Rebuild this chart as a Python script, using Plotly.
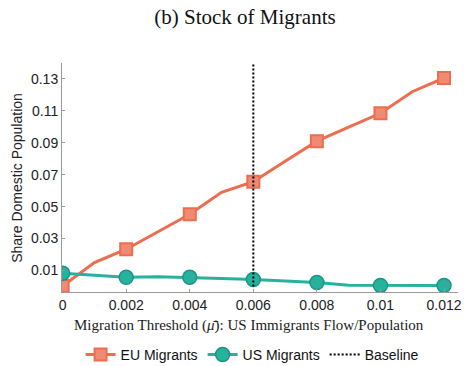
import plotly.graph_objects as go

# Migration threshold grid (US immigrant flow / population)
threshold = [0.000, 0.001, 0.002, 0.003, 0.004, 0.005, 0.006,
             0.007, 0.008, 0.009, 0.010, 0.011, 0.012]
eu_stock = [0.0003, 0.0149, 0.0233, 0.0343, 0.0452, 0.0590, 0.0656,
            0.0785, 0.0910, 0.0998, 0.1085, 0.1220, 0.1306]
us_stock = [0.0082, 0.0070, 0.0057, 0.0061, 0.0057, 0.0050, 0.0043,
            0.0035, 0.0024, 0.0008, 0.0006, 0.0006, 0.0006]
baseline_x = 0.006
baseline_span = [0.0, 0.14]

x_ticks = [0, 0.002, 0.004, 0.006, 0.008, 0.010, 0.012]
x_labels = ["0", "0.002", "0.004", "0.006", "0.008", "0.01", "0.012"]
y_ticks = [0.01, 0.03, 0.05, 0.07, 0.09, 0.11, 0.13]
y_labels = ["0.01", "0.03", "0.05", "0.07", "0.09", "0.11", "0.13"]

EU_LINE = "#EC6D4F"
EU_FILL = "#EF8A73"
US_LINE = "#27B29E"
US_EDGE = "#1E9584"

# markers sit on every second grid point
mk_x = threshold[::2]
eu_mk = eu_stock[::2]
us_mk = us_stock[::2]

eu_marker = dict(symbol="square", size=12, color=EU_FILL, line=dict(color=EU_LINE, width=2))
us_marker = dict(symbol="circle", size=14, color=US_LINE, line=dict(color=US_EDGE, width=1.5))

fig = go.Figure()

fig.add_trace(go.Scatter(x=threshold, y=eu_stock, mode="lines",
                         line=dict(color=EU_LINE, width=3), showlegend=False, hoverinfo="skip"))
fig.add_trace(go.Scatter(x=mk_x, y=eu_mk, mode="markers", marker=eu_marker, showlegend=False))
fig.add_trace(go.Scatter(x=threshold, y=us_stock, mode="lines",
                         line=dict(color=US_LINE, width=3), showlegend=False, hoverinfo="skip"))
fig.add_trace(go.Scatter(x=mk_x, y=us_mk, mode="markers", marker=us_marker, showlegend=False))
fig.add_trace(go.Scatter(x=[baseline_x, baseline_x], y=baseline_span, mode="lines",
                         line=dict(color="black", width=2, dash="2px,2px"), showlegend=False))

# legend entries
fig.add_trace(go.Scatter(x=[None], y=[None], mode="lines+markers", name="EU Migrants",
                         line=dict(color=EU_LINE, width=3), marker=eu_marker))
fig.add_trace(go.Scatter(x=[None], y=[None], mode="lines+markers", name="US Migrants",
                         line=dict(color=US_LINE, width=3), marker=us_marker))
fig.add_trace(go.Scatter(x=[None], y=[None], mode="lines", name="Baseline",
                         line=dict(color="black", width=2, dash="2px,2px")))

axis_common = dict(showgrid=False, zeroline=False, showline=True, linecolor="#9a9a9a",
                   linewidth=1, ticks="inside", ticklen=3, tickcolor="#9a9a9a",
                   tickfont=dict(family="Liberation Sans, Arial, sans-serif", size=14, color="#222"))

fig.update_xaxes(range=[-0.00002, 0.01244], tickvals=x_ticks, ticktext=x_labels, **axis_common)
fig.update_yaxes(range=[-0.0035, 0.140], tickvals=y_ticks, ticktext=y_labels, **axis_common)

fig.update_layout(
    width=464, height=366,
    margin=dict(l=62, r=6, t=63, b=74, autoexpand=False),
    paper_bgcolor="white", plot_bgcolor="white",
    title=dict(text="(b) Stock of Migrants", x=245 / 464, xref="container", xanchor="center",
               y=1 - 17 / 366, yanchor="middle",
               font=dict(family="Liberation Serif, DejaVu Serif, serif", size=21, color="#111")),
    legend=dict(orientation="h", x=0.48, xanchor="center", y=-0.275, yanchor="middle",
                font=dict(family="Liberation Sans, Arial, sans-serif", size=14, color="#111"),
                itemwidth=30, tracegroupgap=0, bgcolor="rgba(0,0,0,0)"),
    annotations=[
        dict(text="Migration Threshold (<i>μ̄</i>): US Immigrants Flow/Population",
             xref="paper", yref="paper", x=0.472, y=-0.148, xanchor="center", yanchor="middle",
             showarrow=False,
             font=dict(family="Liberation Serif, DejaVu Serif, serif", size=15, color="#222")),
        dict(text="Share Domestic Population", xref="paper", yref="paper",
             x=-0.114, y=0.498, xanchor="center", yanchor="middle", textangle=-90,
             showarrow=False,
             font=dict(family="Liberation Sans, Arial, sans-serif", size=14, color="#222")),
    ],
)

fig.write_html("out.html")
